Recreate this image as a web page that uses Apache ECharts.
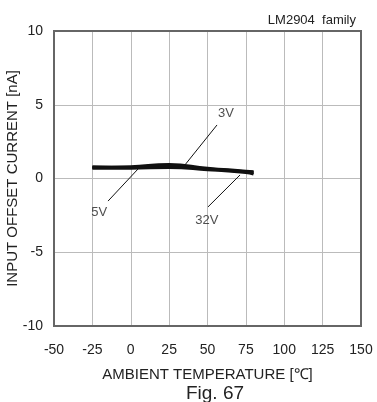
<!DOCTYPE html>
<html>
<head>
<meta charset="utf-8">
<script src="https://cdn.jsdelivr.net/npm/echarts@6/dist/echarts.min.js"></script>
<style>
  html, body { margin: 0; padding: 0; background: #fff; }
  #chart { width: 377px; height: 402px; }
</style>
</head>
<body>
<div id="chart"></div>
<script>
// temperatures (deg C) and offset current curves (nA)
const temps = [-25, 0, 25, 50, 75, 80];
const curve3V = [0.75, 0.8, 0.95, 0.7, 0.5, 0.45];
const curve5V = [0.8, 0.75, 0.85, 0.65, 0.45, 0.4];
const curve32V = [0.7, 0.7, 0.75, 0.6, 0.4, 0.3];

const xTicks = [-50, -25, 0, 25, 50, 75, 100, 125, 150];
const yTicks = [-10, -5, 0, 5, 10];

// callout labels: [text position x, y], leader line [from, to]
const labelNames = ['3V', '5V', '32V'];
const labelPos = [[62, 4.4], [-20.5, -2.3], [49.5, -2.85]];
const leaders = [
  [[56.2, 3.63], [35.3, 0.92]],
  [[4.7, 0.64], [-14.8, -1.53]],
  [[71.2, 0.24], [50.3, -1.93]]
];

(function() {
  const chart = echarts.init(document.getElementById('chart'));
  const font = 'Liberation Sans, Arial, sans-serif';

  const pair = (xs, ys) => xs.map((x, i) => [x, ys[i]]);
  const curves = [curve3V, curve5V, curve32V].map(c => ({
    type: 'line',
    data: pair(temps, c),
    smooth: true,
    symbol: 'none',
    lineStyle: { color: '#111', width: 3 },
    silent: true
  }));

  const leaderSeries = leaders.map(l => ({
    type: 'line',
    data: l,
    symbol: 'none',
    lineStyle: { color: '#111', width: 1 },
    silent: true
  }));

  const option = {
    animation: false,
    textStyle: { fontFamily: font },
    title: [
      {
        text: 'LM2904  family',
        right: 16, top: 9,
        textStyle: { fontSize: 13, fontWeight: 'normal', color: '#222', fontFamily: font }
      },
      {
        text: 'Fig. 67',
        left: 210, top: 379, textAlign: 'center',
        textStyle: { fontSize: 19, fontWeight: 'normal', color: '#222', fontFamily: font }
      }
    ],
    grid: { left: 54, right: 16, top: 31, bottom: 76, outerBoundsMode: 'none' },
    xAxis: {
      type: 'value',
      min: -50, max: 150, interval: 25,
      name: 'AMBIENT TEMPERATURE [\u2103]',
      nameLocation: 'middle',
      nameGap: 41,
      nameMoveOverlap: false,
      nameTextStyle: { fontSize: 15, color: '#222' },
      axisLine: { show: false },
      axisTick: { show: false },
      axisLabel: {
        color: '#222', fontSize: 14, margin: 17,
        customValues: xTicks
      },
      splitLine: { show: true, lineStyle: { color: '#bbb', width: 1 } }
    },
    yAxis: {
      type: 'value',
      min: -10, max: 10, interval: 5,
      name: 'INPUT OFFSET CURRENT [nA]',
      nameLocation: 'middle',
      nameGap: 34,
      nameMoveOverlap: false,
      nameTextStyle: { fontSize: 15, color: '#222' },
      axisLine: { show: false },
      axisTick: { show: false },
      axisLabel: { color: '#222', fontSize: 14, margin: 11, customValues: yTicks },
      splitLine: { show: true, lineStyle: { color: '#bbb', width: 1 } }
    },
    graphic: [{
      type: 'rect',
      shape: { x: 54, y: 31, width: 307, height: 295 },
      style: { fill: null, stroke: '#666', lineWidth: 2 },
      silent: true,
      z: 10
    }],
    series: curves.concat(leaderSeries, [{
      type: 'scatter',
      symbolSize: 0,
      data: labelPos.map((p, i) => ({ name: labelNames[i], value: p })),
      label: {
        show: true,
        position: 'inside',
        formatter: '{b}',
        color: '#222',
        fontSize: 13
      },
      silent: true
    }])
  };

  chart.setOption(option);
})();
</script>
</body>
</html>
